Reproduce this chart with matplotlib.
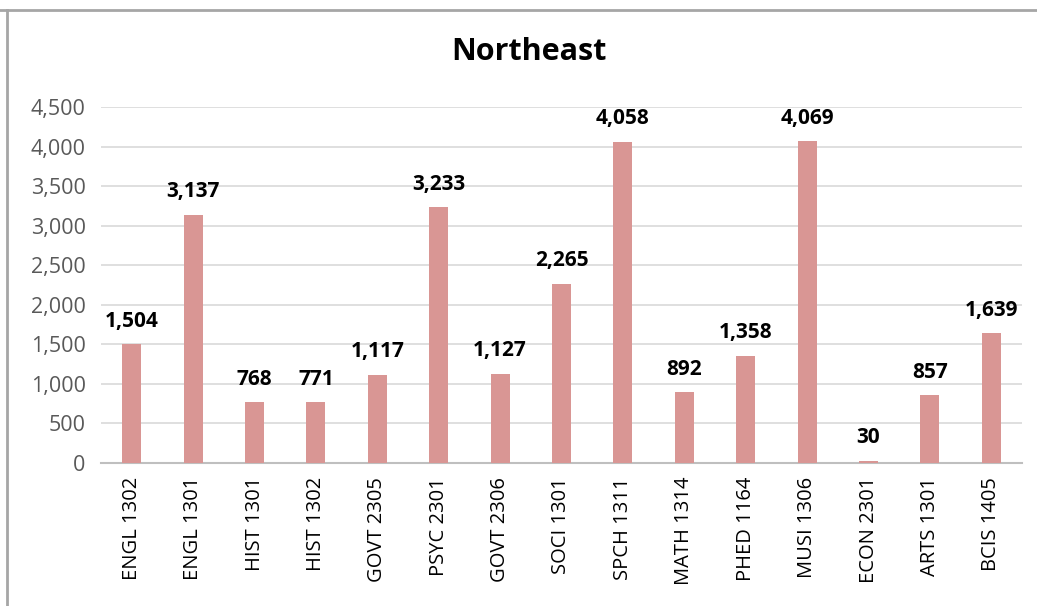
import matplotlib.pyplot as plt
from matplotlib.lines import Line2D
from matplotlib.ticker import FuncFormatter

courses = ["ENGL 1302", "ENGL 1301", "HIST 1301", "HIST 1302", "GOVT 2305",
           "PSYC 2301", "GOVT 2306", "SOCI 1301", "SPCH 1311", "MATH 1314",
           "PHED 1164", "MUSI 1306", "ECON 2301", "ARTS 1301", "BCIS 1405"]
counts = [1504, 3137, 768, 771, 1117, 3233, 1127, 2265, 4058, 892,
          1358, 4069, 30, 857, 1639]

plt.rcParams['font.family'] = ['Open Sans', 'DejaVu Sans']

fig = plt.figure(figsize=(10.37, 6.06), dpi=100)
ax = fig.add_axes([101 / 1037, 1 - 463 / 606, 921 / 1037, 356 / 606])

x = range(len(courses))
bars = ax.bar(x, counts, width=0.31, color="#D99694", zorder=3)

for b, v in zip(bars, counts):
    ax.annotate(f"{v:,}", (b.get_x() + b.get_width() / 2, v),
                xytext=(0, 9), textcoords="offset points",
                ha="center", va="bottom", fontsize=15, fontweight="bold")

ax.set_xlim(-0.5, len(courses) - 0.5)
ax.set_ylim(0, 4500)
ax.set_yticks(range(0, 4501, 500))
ax.yaxis.set_major_formatter(FuncFormatter(lambda v, p: f"{int(v):,}"))
ax.set_xticks(list(x))
ax.set_xticklabels(courses, rotation=90, fontsize=14.5)
ax.tick_params(axis="y", labelsize=15.5, labelcolor="#595959", length=0, pad=11)
ax.tick_params(axis="x", length=0, pad=10)
ax.grid(axis="y", color="#D9D9D9", linewidth=1.2, zorder=0)
for s in ["top", "right", "left"]:
    ax.spines[s].set_visible(False)
ax.spines["bottom"].set_color("#BFBFBF")
ax.spines["bottom"].set_linewidth(1.5)

fig.text(529 / 1037, 1 - 52 / 606, "Northeast", ha="center", va="center",
         fontsize=22, fontweight="bold")

# outer chart border (partly cropped in the original)
fig.add_artist(Line2D([0, 1], [1 - 9.5 / 606] * 2, color="#A6A6A6", lw=2,
                      transform=fig.transFigure))
fig.add_artist(Line2D([7 / 1037] * 2, [0, 1 - 9.5 / 606], color="#A6A6A6", lw=2,
                      transform=fig.transFigure))

fig.savefig("out.png", dpi=100)
